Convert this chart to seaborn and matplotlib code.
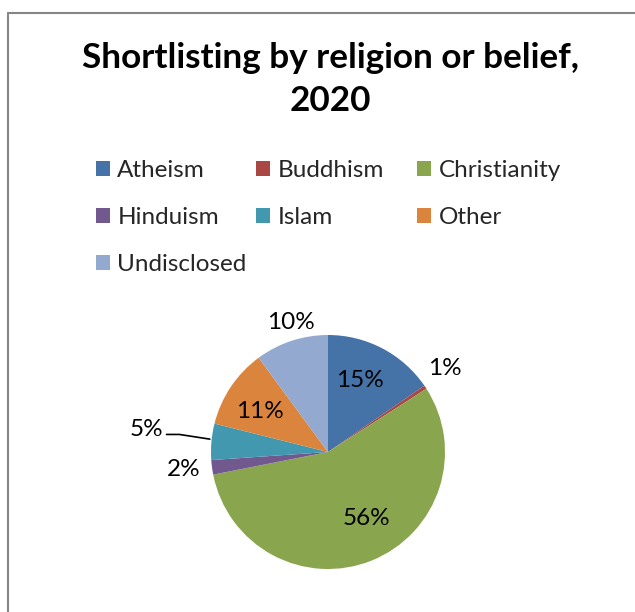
import matplotlib
matplotlib.use("Agg")
import matplotlib.pyplot as plt
import seaborn as sns
from matplotlib.patches import Patch
from matplotlib.lines import Line2D

categories = ["Atheism", "Buddhism", "Christianity", "Hinduism", "Islam", "Other", "Undisclosed"]
values = [15.4, 0.5, 56.0, 2.0, 5.0, 11.0, 10.1]
value_labels = ["15%", "1%", "56%", "2%", "5%", "11%", "10%"]
colors = ["#4572A7", "#AA4643", "#89A54E", "#71588F", "#4198AF", "#DB843D", "#93A9CF"]

sns.set_theme(style="white")
plt.rcParams["font.family"] = ["Lato", "DejaVu Sans"]

W, H = 635, 612
fig = plt.figure(figsize=(W / 100, H / 100), dpi=100)
fig.patch.set_facecolor("white")

# border
fig.add_artist(Line2D([7.5 / W, 7.5 / W], [0, 1 - 13 / H], color="#868686", lw=1.5, transform=fig.transFigure))
fig.add_artist(Line2D([7.5 / W, 1.0], [1 - 13 / H, 1 - 13 / H], color="#868686", lw=1.5, transform=fig.transFigure))

# title
fig.text(330 / W, 1 - 58 / H, "Shortlisting by religion or belief,", ha="center", va="center",
         fontsize=25.3, fontweight="bold", color="black")
fig.text(330 / W, 1 - 101 / H, "2020", ha="center", va="center",
         fontsize=25.3, fontweight="bold", color="black")

# pie
cx, cy, r = 328, 452, 117
ax = fig.add_axes([(cx - r) / W, (H - cy - r) / H, 2 * r / W, 2 * r / H])
pal = sns.color_palette(colors)
wedges, _ = ax.pie(values, colors=pal, startangle=90, counterclock=False, radius=1.0,
                   wedgeprops=dict(linewidth=0))
ax.set_xlim(-1, 1)
ax.set_ylim(-1, 1)
ax.set_aspect("equal")
ax.axis("off")

label_pos = [(0.27, 0.61), (1.0, 0.71), (0.33, -0.57), (-1.23, -0.15),
             (-1.55, 0.19), (-0.58, 0.35), (-0.32, 1.11)]
for (x, y), t in zip(label_pos, value_labels):
    ax.text(x, y, t, ha="center", va="center", fontsize=17.5, color="black", clip_on=False)
ax.plot([-1.38, -1.27, -1.01], [0.15, 0.15, 0.11], color="black", lw=1.2, clip_on=False)

# legend in three columns
fs = 17.5
handles = [Patch(facecolor=c, edgecolor="none") for c in pal]
cols = [[0, 3, 6], [1, 4], [2, 5]]
col_x = [96, 256, 417]
for idxs, xpx in zip(cols, col_x):
    fig.legend([handles[i] for i in idxs], [categories[i] for i in idxs],
               loc="upper left", bbox_to_anchor=(xpx / W, 1 - 160 / H),
               bbox_transform=fig.transFigure, frameon=False, fontsize=fs,
               handlelength=0.58, handleheight=0.58, handletextpad=0.3,
               labelspacing=1.07, borderpad=0, borderaxespad=0)

fig.savefig("out.png", dpi=100)
